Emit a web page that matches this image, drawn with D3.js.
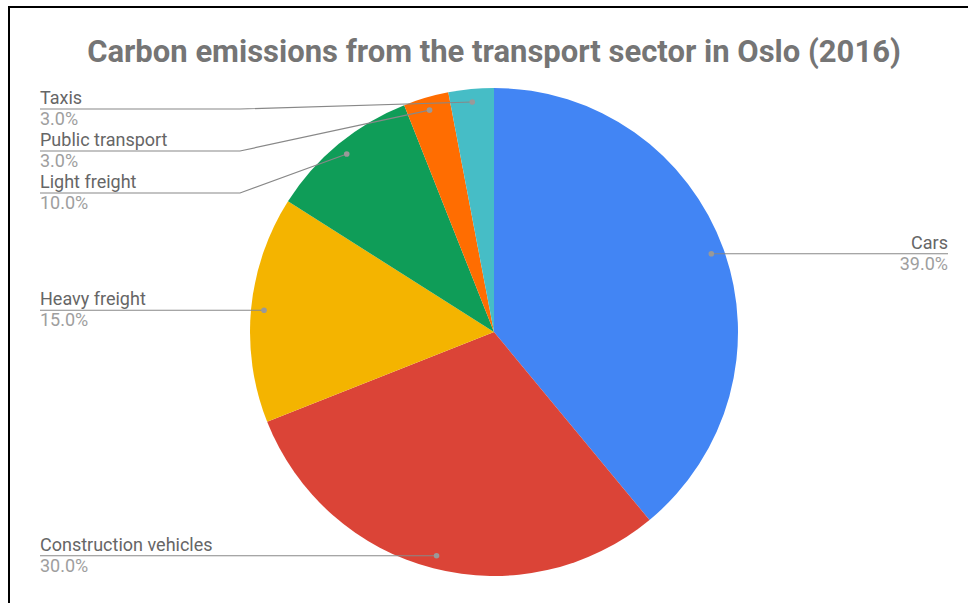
<!DOCTYPE html>
<html>
<head>
<meta charset="utf-8">
<script src="https://cdn.jsdelivr.net/npm/d3@7"></script>
<style>
body { margin: 0; background: #fff; }
text { font-family: Roboto, "Noto Sans", sans-serif; }
</style>
</head>
<body>
<script>
var categories = ["Cars", "Construction vehicles", "Heavy freight", "Light freight", "Public transport", "Taxis"];
var values = [39, 30, 15, 10, 3, 3];
var colors = ["#4285f4", "#db4437", "#f4b400", "#0f9d58", "#ff6d01", "#46bdc6"];
var title = "Carbon emissions from the transport sector in Oslo (2016)";

var width = 968,
	height = 603,
	cx = 494,
	cy = 332,
	radius = 244,
	dotRadius = 231;

var svg = d3.select("body").append("svg")
		.attr("width", width)
		.attr("height", height);

// frame, only top and left edges fall inside the picture
svg.append("rect")
		.attr("x", 9)
		.attr("y", 7)
		.attr("width", width)
		.attr("height", height)
		.attr("fill", "none")
		.attr("stroke", "#000")
		.attr("stroke-width", 2);

svg.append("text")
		.attr("x", cx)
		.attr("y", 62)
		.attr("text-anchor", "middle")
		.attr("font-size", 31)
		.attr("font-weight", "bold")
		.attr("fill", "#757575")
		.text(title);

var total = d3.sum(values);
var data = categories.map(function(c, i){
	return {name: c, value: values[i], color: colors[i]};
});

var pie = d3.pie().sort(null).value(function(d){ return d.value; });
var arcs = pie(data);
var arc = d3.arc().innerRadius(0).outerRadius(radius);

var g = svg.append("g").attr("transform", "translate(" + cx + "," + cy + ")");
g.selectAll("path")
		.data(arcs)
	.enter().append("path")
		.attr("d", arc)
		.attr("fill", function(d){ return d.data.color; });

// label anchors on the bisector of each slice
arcs.forEach(function(d){
	var a = (d.startAngle + d.endAngle) / 2;
	d.px = cx + dotRadius * Math.sin(a);
	d.py = cy - dotRadius * Math.cos(a);
	d.left = a > Math.PI;
});

// stack left labels downward so they do not overlap
var left = arcs.filter(function(d){ return d.left; })
	.sort(function(a, b){ return a.py - b.py; });
var prev = 88 - 21;
left.forEach(function(d){
	d.ly = Math.max(d.py, prev + 42);
	prev = d.ly;
});
arcs.filter(function(d){ return !d.left; }).forEach(function(d){ d.ly = d.py; });

var labelLeft = 40,
	labelRight = 948,
	elbow = 240;

var labels = svg.selectAll("g.label")
		.data(arcs)
	.enter().append("g")
		.attr("class", "label");

labels.append("path")
		.attr("fill", "none")
		.attr("stroke", "#888")
		.attr("stroke-width", 1.2)
		.attr("d", function(d){
			if (d.left) {
				if (Math.abs(d.ly - d.py) < 1) return "M" + labelLeft + "," + d.ly + "L" + d.px + "," + d.py;
				return "M" + labelLeft + "," + d.ly + "L" + elbow + "," + d.ly + "L" + d.px + "," + d.py;
			}
			return "M" + labelRight + "," + d.ly + "L" + d.px + "," + d.py;
		});

labels.append("circle")
		.attr("cx", function(d){ return d.px; })
		.attr("cy", function(d){ return d.py; })
		.attr("r", 2.8)
		.attr("fill", "#999");

labels.append("text")
		.attr("x", function(d){ return d.left ? labelLeft : labelRight; })
		.attr("y", function(d){ return d.ly - 5; })
		.attr("text-anchor", function(d){ return d.left ? "start" : "end"; })
		.attr("font-size", 18)
		.attr("fill", "#666")
		.text(function(d){ return d.data.name; });

labels.append("text")
		.attr("x", function(d){ return d.left ? labelLeft : labelRight; })
		.attr("y", function(d){ return d.ly + 16; })
		.attr("text-anchor", function(d){ return d.left ? "start" : "end"; })
		.attr("font-size", 18)
		.attr("fill", "#9e9e9e")
		.text(function(d){ return (d.data.value / total * 100).toFixed(1) + "%"; });
</script>
</body>
</html>
